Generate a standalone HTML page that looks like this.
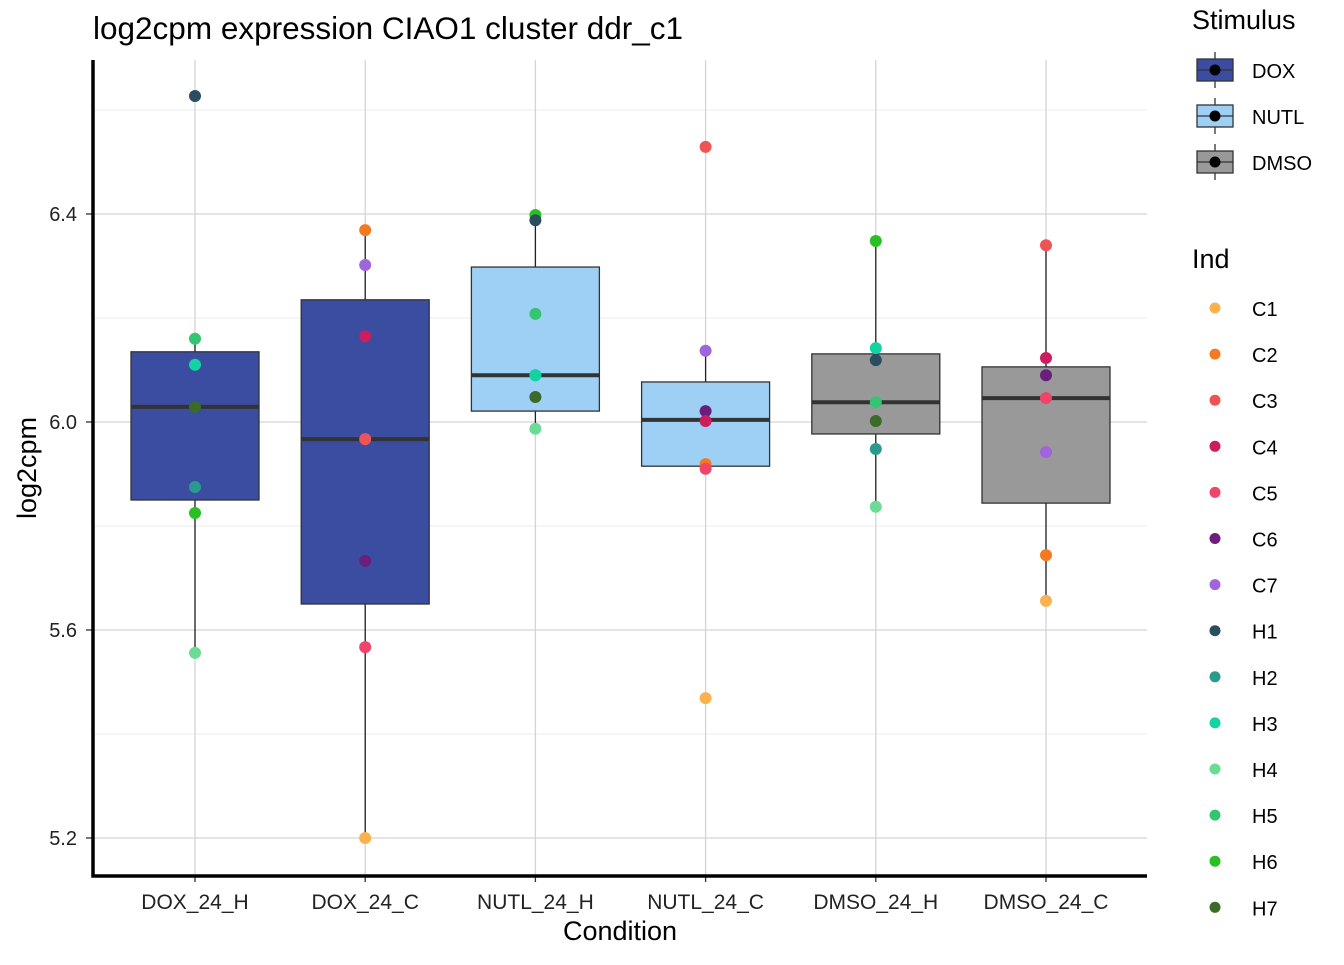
<!DOCTYPE html>
<html><head><meta charset="utf-8"><style>
body{margin:0;background:#fff;font-family:"Liberation Sans",sans-serif}
</style></head><body>
<svg id="chart" width="1344" height="960" xmlns="http://www.w3.org/2000/svg" font-family="Liberation Sans, sans-serif"></svg>
<script>
const categories=["DOX_24_H","DOX_24_C","NUTL_24_H","NUTL_24_C","DMSO_24_H","DMSO_24_C"];
const stimulus=["DOX","DOX","NUTL","NUTL","DMSO","DMSO"];
const q1=[5.85,5.65,6.021,5.915,5.977,5.844];
const med=[6.029,5.967,6.09,6.004,6.038,6.046];
const q3=[6.135,6.235,6.298,6.077,6.131,6.106];
const whiskLo=[5.556,5.2,5.987,5.915,5.837,5.656];
const whiskHi=[6.16,6.369,6.398,6.137,6.348,6.34];
const pointInd=[
["H1","H5","H3","H7","H2","H6","H4"],
["C2","C7","C4","C3","C6","C5","C1"],
["H6","H1","H5","H2","H7","H4","H3"],
["C3","C7","C6","C4","C2","C5","C1"],
["H6","H3","H1","H5","H7","H2","H4"],
["C3","C4","C6","C5","C7","C2","C1"]];
const pointVal=[
[6.627,6.16,6.11,6.029,5.875,5.825,5.556],
[6.369,6.302,6.165,5.967,5.733,5.567,5.2],
[6.398,6.388,6.208,6.09,6.048,5.987,6.09],
[6.529,6.137,6.021,6.002,5.919,5.91,5.469],
[6.348,6.142,6.119,6.038,6.002,5.948,5.837],
[6.34,6.123,6.09,6.046,5.942,5.744,5.656]];
const majorTicks=[5.2,5.6,6.0,6.4];
const minorTicks=[5.4,5.8,6.2,6.6];
const stimNames=["DOX","NUTL","DMSO"];
const stimFill={DOX:"#3A4DA0",NUTL:"#9ECFF5",DMSO:"#999999"};
const indNames=["C1","C2","C3","C4","C5","C6","C7","H1","H2","H3","H4","H5","H6","H7"];
const indColors=["#F9B24E","#F47A22","#EE5355","#CC1E5E","#F0446B","#6B1F7B","#A064DC","#2B4D62","#2A9A8E","#12D3A2","#6BDB96","#33C571","#28C023","#3A6B28"];

const svg=document.getElementById('chart');const NS="http://www.w3.org/2000/svg";
function el(t,a,p){const e=document.createElementNS(NS,t);for(const k in a)e.setAttribute(k,a[k]);(p||svg).appendChild(e);return e;}
const L=93,R=1147,T=60,B=876;
const y=v=>422-(v-6.0)*520;
const x=i=>195+i*170.2;
const grid=el('g',{});
minorTicks.forEach(v=>{if(y(v)>T)el('line',{x1:L,x2:R,y1:y(v),y2:y(v),stroke:"#ebebeb","stroke-width":1},grid);});
majorTicks.forEach(v=>el('line',{x1:L,x2:R,y1:y(v),y2:y(v),stroke:"#d4d4d4","stroke-width":1.3},grid));
categories.forEach((c,i)=>el('line',{x1:x(i),x2:x(i),y1:T,y2:B,stroke:"#d4d4d4","stroke-width":1.3},grid));
categories.forEach((c,i)=>{
 const g=el('g',{});
 el('line',{x1:x(i),x2:x(i),y1:y(whiskHi[i]),y2:y(whiskLo[i]),stroke:"#222","stroke-width":1.3},g);
 el('rect',{x:x(i)-64,y:y(q3[i]),width:128,height:y(q1[i])-y(q3[i]),fill:stimFill[stimulus[i]],stroke:"#333","stroke-width":1.3},g);
 el('line',{x1:x(i)-64,x2:x(i)+64,y1:y(med[i]),y2:y(med[i]),stroke:"#333","stroke-width":4},g);
 pointVal[i].forEach((v,j)=>{const c2=el('circle',{cx:x(i),cy:y(v),r:6,fill:indColors[indNames.indexOf(pointInd[i][j])]},g);
  });
 const t=el('text',{x:x(i),y:909,"text-anchor":"middle","font-size":21,fill:"#222"});t.textContent=c;
 
 el('line',{x1:x(i),x2:x(i),y1:B,y2:B+6,stroke:"#333","stroke-width":1.3});
});
majorTicks.forEach(v=>{const t=el('text',{x:77,y:y(v)+7,"text-anchor":"end","font-size":20,fill:"#222"});t.textContent=v.toFixed(1);
 
 el('line',{x1:86,x2:93,y1:y(v),y2:y(v),stroke:"#333","stroke-width":1.3});});
const ax=el('path',{d:`M${L},${T} L${L},${B} L${R},${B}`,fill:"none",stroke:"#000","stroke-width":3.5});

let t=el('text',{x:93,y:39,"font-size":31.5,fill:"#000"});t.textContent="log2cpm expression CIAO1 cluster ddr_c1";

t=el('text',{x:620,y:940,"text-anchor":"middle","font-size":27,fill:"#000"});t.textContent="Condition";

t=el('text',{x:36,y:468,"text-anchor":"middle","font-size":27,fill:"#000",transform:"rotate(-90 36 468)"});t.textContent="log2cpm";

t=el('text',{x:1192,y:29,"font-size":27,fill:"#000"});t.textContent="Stimulus";

stimNames.forEach((s,k)=>{const g=el('g',{});
 const cy=70+k*46;
 el('line',{x1:1215,x2:1215,y1:cy-18,y2:cy+18,stroke:"#333","stroke-width":1.3},g);
 el('rect',{x:1197,y:cy-11,width:36,height:22,fill:stimFill[s],stroke:"#333","stroke-width":1.3},g);
 el('line',{x1:1197,x2:1233,y1:cy,y2:cy,stroke:"#333","stroke-width":1.3},g);
 el('circle',{cx:1215,cy:cy,r:5.5,fill:"#000"},g);
 const tt=el('text',{x:1252,y:cy+8,"font-size":20,fill:"#000"},g);tt.textContent=s;});
t=el('text',{x:1192,y:268,"font-size":27,fill:"#000"});t.textContent="Ind";

indNames.forEach((n,k)=>{const g=el('g',{});
 const cy=308+k*46.1;
 el('circle',{cx:1215,cy:cy,r:5.5,fill:indColors[k]},g);
 const tt=el('text',{x:1252,y:cy+8,"font-size":20,fill:"#000"},g);tt.textContent=n;});
</script>
</body></html>
